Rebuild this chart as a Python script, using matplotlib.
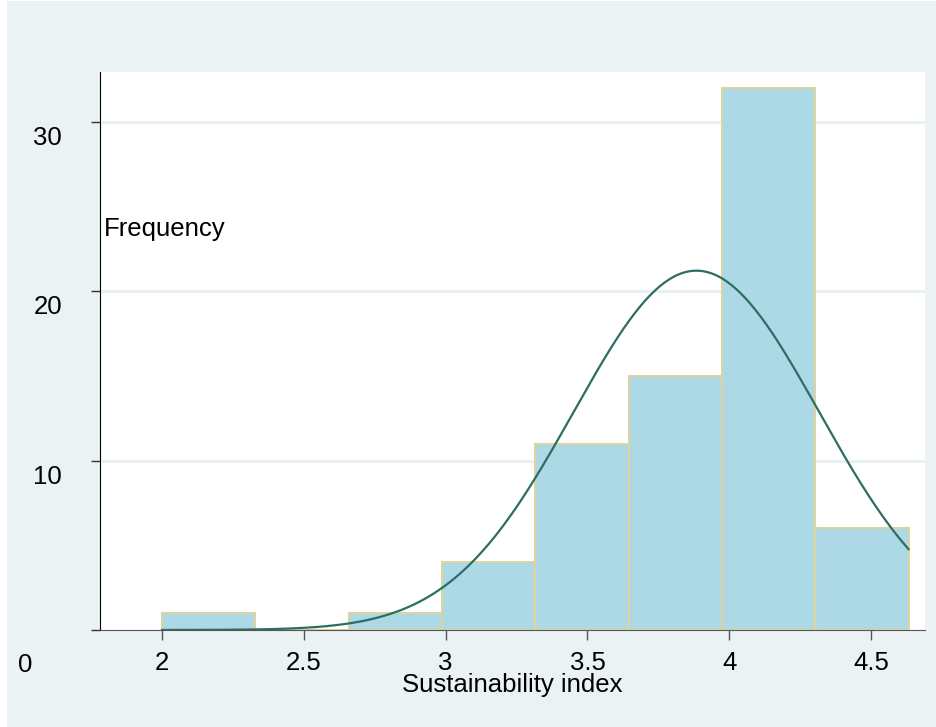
import numpy as np
import matplotlib.pyplot as plt
from matplotlib.patches import Rectangle

plt.rcParams['font.family'] = ['Liberation Sans', 'DejaVu Sans']

# histogram of sustainability index, 8 bins
bin_start = 2.0
bin_width = 0.329
counts = [1, 0, 1, 4, 11, 15, 32, 6]
# normal curve overlay
mean_si = 3.884
sd_si = 0.433
n_obs = sum(counts)

xticks = [2, 2.5, 3, 3.5, 4, 4.5]
xtick_labels = ['2', '2.5', '3', '3.5', '4', '4.5']
yticks = [0, 10, 20, 30]

edges = bin_start + bin_width * np.arange(len(counts) + 1)

fig = plt.figure(figsize=(9.36, 7.27), dpi=100, facecolor='white')
bg = Rectangle((7 / 936, 0), 1, 726 / 727, transform=fig.transFigure,
               facecolor='#eaf2f3', edgecolor='none', zorder=-10)
fig.add_artist(bg)
ax = fig.add_axes([100 / 936, 97 / 727, 825 / 936, 558 / 727])
ax.set_zorder(5)
ax.set_facecolor('white')

ax.bar(edges[:-1], counts, width=bin_width, align='edge', color='#add8e6',
       edgecolor='#ddd5a0', linewidth=1.5, zorder=2)

xs = np.linspace(edges[0], edges[-1], 300)
dens = n_obs * bin_width / (sd_si * np.sqrt(2 * np.pi)) * np.exp(-0.5 * ((xs - mean_si) / sd_si) ** 2)
ax.plot(xs, dens, color='#2c6e64', linewidth=1.6, zorder=3)

ax.set_xlim(1.7814, 4.690)
ax.set_ylim(0, 32.95)

for v in yticks[1:]:
    ax.axhline(v, color='#e8f0f2', linewidth=2, zorder=1)

ax.spines['top'].set_visible(False)
ax.spines['right'].set_visible(False)
ax.spines['left'].set_color('black')
ax.spines['bottom'].set_color('#555555')

ax.set_xticks(xticks)
ax.set_xticklabels(xtick_labels, fontsize=18.5)
ax.tick_params(axis='x', length=7, width=1, color='#555555', pad=8)
ax.set_yticks(yticks)
ax.set_yticklabels([])
ax.tick_params(axis='y', length=6.5, width=1, color='#333333')

# stata-style offset y tick labels
for v in yticks[1:]:
    ax.annotate(str(v), xy=(0, v), xycoords=('axes fraction', 'data'),
                xytext=(-38, -16), textcoords='offset pixels',
                ha='right', va='center', fontsize=18.5)
ax.annotate('0', xy=(0, 0), xycoords=('axes fraction', 'data'),
            xytext=(-68, -35), textcoords='offset pixels',
            ha='right', va='center', fontsize=18.5)

ax.text(0.005, 23.7, 'Frequency', transform=ax.get_yaxis_transform(),
        ha='left', va='center', fontsize=18.5)
ax.set_xlabel('Sustainability index', fontsize=18.5, labelpad=-1)

fig.savefig('out.png', dpi=100, facecolor=fig.get_facecolor())
